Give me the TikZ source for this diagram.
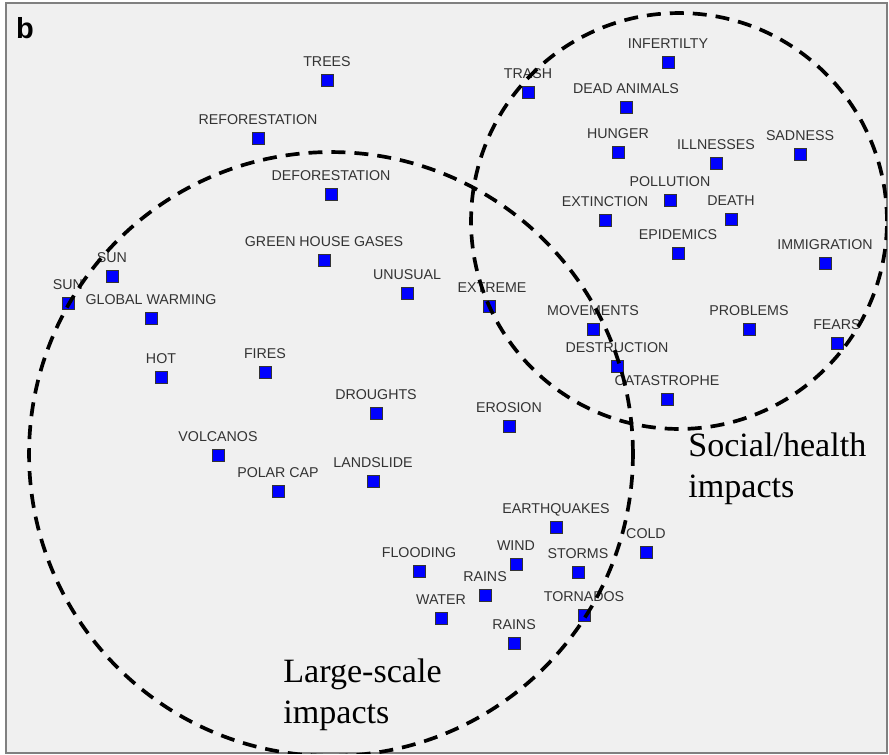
\documentclass[tikz,border=0pt]{standalone}
\usepackage{fontspec}
\setmainfont{Liberation Serif}
\newfontfamily\lblfont{Liberation Sans}
\usetikzlibrary{positioning}
\definecolor{panelgray}{RGB}{240,240,240}
\definecolor{markblue}{RGB}{0,0,255}
\tikzset{%
  % Specifications for style of nodes:
          sqbox/.style = {rectangle, draw=black!80, line width=0.5pt,
                          fill=markblue, minimum size=0.24cm, inner sep=0pt},
            lbl/.style = {anchor=base, yshift=0.27cm, inner sep=0pt,
                          text=black!80, font=\lblfont\fontsize{8.1}{9}\selectfont},
        bigtext/.style = {anchor=base west, align=left, inner sep=0pt,
                          font=\fontsize{19.4}{23}\selectfont},
           ring/.style = {draw=black, line width=2.1pt, dash pattern=on 0.28cm off 0.18cm}
}

\begin{document}
\begin{tikzpicture}[x=0.02cm, y=-0.02cm]
  \useasboundingbox (0,0) rectangle (889,754);
  \fill[white] (0,0) rectangle (889,754);
  \draw[fill=panelgray, draw=gray, line width=0.6pt] (6,3) rectangle (887,753);
  \node (panel) [anchor=center, font=\lblfont\bfseries\fontsize{16.5}{18}\selectfont] at (25,28) {b};
  % Specification of nodes (position, etc.)
  \node (trees)    [sqbox] at (327,80) {};
  \node (treest)   [lbl] at (trees.center) {TREES};
  \node (refor)    [sqbox] at (258,138) {};
  \node (refort)   [lbl] at (refor.center) {REFORESTATION};
  \node (defor)    [sqbox] at (331,194) {};
  \node (defort)   [lbl] at (defor.center) {DEFORESTATION};
  \node (ghg)      [sqbox] at (324,260) {};
  \node (ghgt)     [lbl] at (ghg.center) {GREEN HOUSE GASES};
  \node (unusual)  [sqbox] at (407,293) {};
  \node (unusualt) [lbl] at (unusual.center) {UNUSUAL};
  \node (suna)     [sqbox] at (112,276) {};
  \node (sunat)    [lbl] at (suna.center) {SUN};
  \node (sunb)     [sqbox] at (68,303) {};
  \node (sunbt)    [lbl] at (sunb.center) {SUN};
  \node (glob)     [sqbox] at (151,318) {};
  \node (globt)    [lbl] at (glob.center) {GLOBAL WARMING};
  \node (hot)      [sqbox] at (161,377) {};
  \node (hott)     [lbl] at (hot.center) {HOT};
  \node (fires)    [sqbox] at (265,372) {};
  \node (firest)   [lbl] at (fires.center) {FIRES};
  \node (drought)  [sqbox] at (376,413) {};
  \node (droughtt) [lbl] at (drought.center) {DROUGHTS};
  \node (erosion)  [sqbox] at (509,426) {};
  \node (erosiont) [lbl] at (erosion.center) {EROSION};
  \node (volc)     [sqbox] at (218,455) {};
  \node (volct)    [lbl] at (volc.center) {VOLCANOS};
  \node (polar)    [sqbox] at (278,491) {};
  \node (polart)   [lbl] at (polar.center) {POLAR CAP};
  \node (landsl)   [sqbox] at (373,481) {};
  \node (landslt)  [lbl] at (landsl.center) {LANDSLIDE};
  \node (quakes)   [sqbox] at (556,527) {};
  \node (quakest)  [lbl] at (quakes.center) {EARTHQUAKES};
  \node (cold)     [sqbox] at (646,552) {};
  \node (coldt)    [lbl] at (cold.center) {COLD};
  \node (flood)    [sqbox] at (419,571) {};
  \node (floodt)   [lbl] at (flood.center) {FLOODING};
  \node (wind)     [sqbox] at (516,564) {};
  \node (windt)    [lbl] at (wind.center) {WIND};
  \node (storms)   [sqbox] at (578,572) {};
  \node (stormst)  [lbl] at (storms.center) {STORMS};
  \node (rainsa)   [sqbox] at (485,595) {};
  \node (rainsat)  [lbl] at (rainsa.center) {RAINS};
  \node (water)    [sqbox] at (441,618) {};
  \node (watert)   [lbl] at (water.center) {WATER};
  \node (tornado)  [sqbox] at (584,615) {};
  \node (tornadot) [lbl] at (tornado.center) {TORNADOS};
  \node (rainsb)   [sqbox] at (514,643) {};
  \node (rainsbt)  [lbl] at (rainsb.center) {RAINS};
  % social / health side
  \node (infert)   [sqbox] at (668,62) {};
  \node (infertt)  [lbl] at (infert.center) {INFERTILTY};
  \node (trash)    [sqbox] at (528,92) {};
  \node (trasht)   [lbl] at (trash.center) {TRASH};
  \node (dead)     [sqbox] at (626,107) {};
  \node (deadt)    [lbl] at (dead.center) {DEAD ANIMALS};
  \node (hunger)   [sqbox] at (618,152) {};
  \node (hungert)  [lbl] at (hunger.center) {HUNGER};
  \node (ill)      [sqbox] at (716,163) {};
  \node (illt)     [lbl] at (ill.center) {ILLNESSES};
  \node (sad)      [sqbox] at (800,154) {};
  \node (sadt)     [lbl] at (sad.center) {SADNESS};
  \node (poll)     [sqbox] at (670,200) {};
  \node (pollt)    [lbl] at (poll.center) {POLLUTION};
  \node (extinct)  [sqbox] at (605,220) {};
  \node (extinctt) [lbl] at (extinct.center) {EXTINCTION};
  \node (death)    [sqbox] at (731,219) {};
  \node (deatht)   [lbl] at (death.center) {DEATH};
  \node (epid)     [sqbox] at (678,253) {};
  \node (epidt)    [lbl] at (epid.center) {EPIDEMICS};
  \node (immig)    [sqbox] at (825,263) {};
  \node (immigt)   [lbl] at (immig.center) {IMMIGRATION};
  \node (extreme)  [sqbox] at (489,306) {};
  \node (extremet) [lbl, xshift=0.06cm] at (extreme.center) {EXTREME};
  \node (movem)    [sqbox] at (593,329) {};
  \node (movemt)   [lbl] at (movem.center) {MOVEMENTS};
  \node (probl)    [sqbox] at (749,329) {};
  \node (problt)   [lbl] at (probl.center) {PROBLEMS};
  \node (fears)    [sqbox] at (837,343) {};
  \node (fearst)   [lbl] at (fears.center) {FEARS};
  \node (destr)    [sqbox] at (617,366) {};
  \node (destrt)   [lbl] at (destr.center) {DESTRUCTION};
  \node (catas)    [sqbox] at (667,399) {};
  \node (catast)   [lbl] at (catas.center) {CATASTROPHE};
  % group captions (base = last line)
  \node (largecap)  [bigtext] at (283,723) {Large-scale\\impacts};
  \node (socialcap) [bigtext] at (688,497) {Social/health\\impacts};
  % dashed circles
  \begin{scope}
    \clip (6,3) rectangle (887,753);
    \draw[ring] (331,454) circle [radius=6.04cm];
    \draw[ring] (679,221) circle [radius=4.16cm];
  \end{scope}
\end{tikzpicture}
\end{document}
